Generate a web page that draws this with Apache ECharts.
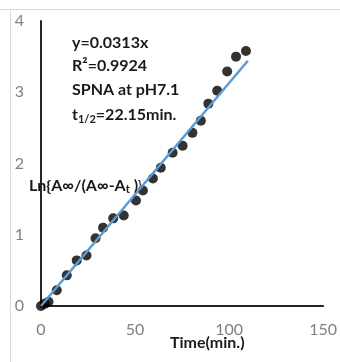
<!DOCTYPE html>
<html>
<head>
<meta charset="utf-8">
<script src="https://cdn.jsdelivr.net/npm/echarts@6/dist/echarts.min.js"></script>
<style>
html,body{margin:0;padding:0;background:#fff;}
#c{width:340px;height:362px;}
</style>
</head>
<body>
<div id="c"></div>
<script>
// Data
var timeMin = [0, 2, 4, 8.4, 13.7, 19, 24.2, 29, 33, 38.4, 44, 50.5, 54.2, 59.5, 63.7, 70, 75.3, 80.5, 85, 89, 93.7, 99, 103.7, 109];
var lnValues = [0, 0.03, 0.06, 0.22, 0.43, 0.64, 0.71, 0.95, 1.10, 1.23, 1.27, 1.48, 1.62, 1.79, 1.94, 2.15, 2.25, 2.43, 2.60, 2.84, 3.02, 3.29, 3.50, 3.58];
var slope = 0.0313;
var fitRange = [0, 110];
var xTicks = [0, 50, 100, 150];
var yTicks = [0, 1, 2, 3, 4];
var annotations = ['y=0.0313x', 'R²=0.9924', 'SPNA at pH7.1'];

var pts = timeMin.map(function (t, i) { return [t, lnValues[i]]; });
var fit = fitRange.map(function (t) { return [t, slope * t]; });

var FONT = 'Lato';
var chart = echarts.init(document.getElementById('c'), null, {renderer: 'canvas'});
chart.setOption({
  animation: false,
  backgroundColor: '#fff',
  grid: {left: 41, right: 13, top: 21, bottom: 56},
  xAxis: {
    type: 'value', min: xTicks[0], max: xTicks[xTicks.length - 1], interval: 50,
    axisLine: {show: true, onZero: false, lineStyle: {color: '#262626', width: 2}},
    axisTick: {show: false}, splitLine: {show: false},
    axisLabel: {color: '#808080', fontSize: 16, fontFamily: FONT, margin: 16}
  },
  yAxis: {
    type: 'value', min: yTicks[0], max: yTicks[yTicks.length - 1], interval: 1,
    axisLine: {show: true, onZero: false, lineStyle: {color: '#262626', width: 2}},
    axisTick: {show: false}, splitLine: {show: false},
    axisLabel: {color: '#808080', fontSize: 16, fontFamily: FONT, margin: 17}
  },
  series: [
    {type: 'scatter', data: pts, symbol: 'circle', symbolSize: 10,
     itemStyle: {color: '#000'}, z: 2},
    {type: 'line', data: fit, showSymbol: false, symbol: 'none',
     lineStyle: {color: '#5B9BD5', width: 2.5}, z: 3}
  ],
  graphic: [
    {type: 'line', shape: {x1: 0, y1: 9.5, x2: 340, y2: 9.5}, style: {stroke: '#d9d9d9', lineWidth: 1}},
    {type: 'line', shape: {x1: 10.5, y1: 10, x2: 10.5, y2: 362}, style: {stroke: '#d9d9d9', lineWidth: 1}},
    {type: 'text', left: 72, top: 35, style: {text: annotations[0], font: 'bold 16px ' + FONT, fill: '#1a1a1a'}},
    {type: 'text', left: 72, top: 58, style: {text: annotations[1], font: 'bold 16px ' + FONT, fill: '#1a1a1a'}},
    {type: 'text', left: 72, top: 82, style: {text: annotations[2], font: 'bold 16px ' + FONT, fill: '#1a1a1a'}},
    {type: 'text', left: 72, top: 107, style: {
      text: '{b|t}{s|1/2}{b|=22.15min.}',
      rich: {b: {font: 'bold 16px ' + FONT, fill: '#1a1a1a'}, s: {font: 'bold 11px ' + FONT, fill: '#1a1a1a', verticalAlign: 'bottom', padding: [8, 0, 0, 0]}}
    }},
    {type: 'text', left: 29, top: 178, style: {
      text: '{b|Ln{A∞/(A∞-A}{s|t}{b| )}}',
      rich: {b: {font: 'bold 16px ' + FONT, fill: '#1a1a1a'}, s: {font: 'bold 11px ' + FONT, fill: '#1a1a1a', padding: [7, 0, 0, 0]}}
    }},
    {type: 'text', left: 170, top: 335, style: {text: 'Time(min.)', font: 'bold 16px ' + FONT, fill: '#1a1a1a'}}
  ]
});
</script>
</body>
</html>
